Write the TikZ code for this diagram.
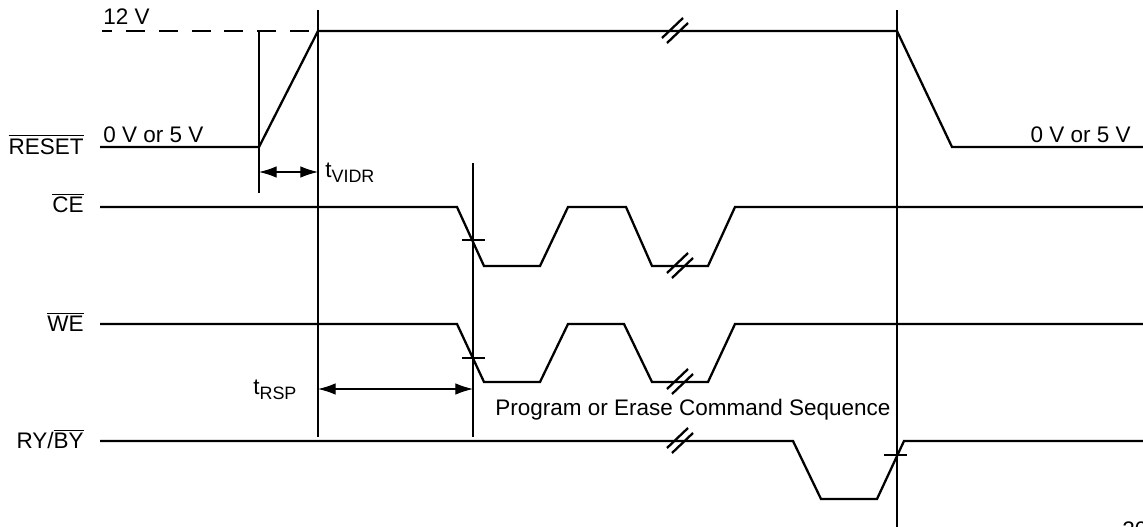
\documentclass[tikz,border=0pt]{standalone}
\usepackage{fontspec}
\setmainfont{Liberation Sans}
\setsansfont{Liberation Sans}
\usetikzlibrary{arrows.meta}
\newcommand\subtx[1]{\raisebox{-3pt}{\fontsize{10.2}{10.2}\selectfont #1}}
\newcommand\ovl[1]{$\overline{\mbox{#1}}$}
\tikzset{
  sig/.style={line width=1.3pt, line join=miter},
  guide/.style={line width=0.6pt},
  dim/.style={line width=0.6pt, {Latex[length=10pt,width=6.5pt]}-{Latex[length=10pt,width=6.5pt]}},
  lbl/.style={inner sep=0pt, font=\fontsize{12.8}{14}\selectfont},
  brk/.pic={\draw[line width=1.3pt] (-13,7) -- (8,-13);
            \draw[line width=1.3pt] (-8,12) -- (13,-8);}
}
\begin{document}
\begin{tikzpicture}[x=0.02cm,y=-0.02cm]
\useasboundingbox (0,0) rectangle (1143,527);
% reference levels
\draw[guide, dash pattern=on 10.8pt off 7.9pt, dash phase=5.1pt] (102,31) -- (318,31);
% guide lines
\draw[guide] (259,31) -- (259,193);
\draw[guide] (318,10) -- (318,437);
\draw[guide] (473,163) -- (473,437);
\draw[guide] (897,10) -- (897,527);
% RESET
\draw[sig] (100,147) -- (259,147) -- (318,31) -- (897,31) -- (952,147) -- (1143,147);
\pic at (675,31) {brk};
% CE
\draw[sig] (100,207) -- (457,207) -- (484,266) -- (540,266) -- (568,207) -- (626,207)
  -- (652,266) -- (708,266) -- (735,207) -- (1143,207);
\pic at (680,266) {brk};
\draw[guide] (462,240) -- (485,240);
% WE
\draw[sig] (100,324) -- (457,324) -- (484,382) -- (540,382) -- (568,324) -- (624,324)
  -- (652,382) -- (708,382) -- (735,324) -- (1143,324);
\pic at (680,382) {brk};
\draw[guide] (462,358) -- (485,358);
% RY/BY
\draw[sig] (100,441) -- (793,441) -- (821,499) -- (877,499) -- (904,441) -- (1143,441);
\pic at (680,441) {brk};
\draw[guide] (884,455) -- (907,455);
% dimension arrows
\coordinate (v1) at (259,172);
\coordinate (v2) at (318,172);
\draw[dim] (v1) -- (v2);
\coordinate (r1) at (318,389);
\coordinate (r2) at (473,389);
\draw[dim] (r1) -- (r2);
% labels
\node[lbl, anchor=base east] (lreset) at (84,154) {\ovl{RESET}};
\node[lbl, anchor=base east] (lce) at (84,213) {\ovl{CE}};
\node[lbl, anchor=base east] (lwe) at (84,331) {\ovl{WE}};
\node[lbl, anchor=base east] (lry) at (84,448) {RY/\ovl{BY}};
\node[lbl, anchor=base west] (l12) at (103,25) {12 V};
\node[lbl, anchor=base west] (l05a) at (103,143) {0 V or 5 V};
\node[lbl, anchor=base east] (l05b) at (1131,143) {0 V or 5 V};
\node[lbl, anchor=base west] (lvidr) at (325,177) {t\subtx{VIDR}};
\node[lbl, anchor=base west] (lrsp) at (253,394) {t\subtx{RSP}};
\node[lbl, anchor=base west] (lprog) at (495,415) {Program or Erase Command Sequence};
\node[lbl, anchor=base west] (lnum) at (1122,537) {20};
\end{tikzpicture}
\end{document}
